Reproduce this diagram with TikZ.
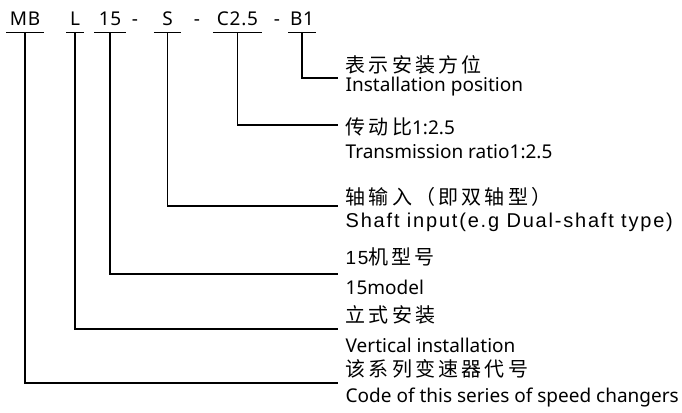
\documentclass[tikz,border=0pt]{standalone}
\usepackage{fontspec}
\setmainfont{Noto Sans}
\newfontfamily\enfont{Noto Sans}
\newfontfamily\zhfont{Noto Sans CJK SC}[LetterSpace=16]
\newfontfamily\arialfont{Liberation Sans}[LetterSpace=9]
\usetikzlibrary{calc}

\begin{document}
\begin{tikzpicture}[x=1pt, y=-1pt, line width=1.4pt,
    code/.style = {anchor=base, inner xsep=0pt, inner ysep=6pt, text depth=0pt, minimum width=#1, font=\fontsize{19}{19}\enfont\addfontfeature{LetterSpace=4}},
    hyph/.style = {anchor=base, inner sep=0pt, font=\fontsize{19}{19}\enfont},
    zh/.style = {anchor=base west, inner sep=0pt, font=\fontsize{20}{20}\zhfont},
    en/.style = {anchor=base west, inner sep=0pt, font=\fontsize{19}{19}\enfont}]

    \useasboundingbox (0,0) rectangle (682,412);

    % model code
    \node[code=36] (mb) at (25,26) {MB};
    \node[code=16] (l) at (75,26) {L};
    \node[code=30] (n15) at (110,26) {15};
    \node[hyph] (d1) at (135,26) {-};
    \node[code=26] (s) at (167.5,26) {S};
    \node[hyph] (d2) at (197,26) {-};
    \node[code=48] (c25) at (237.5,26) {C2.5};
    \node[hyph] (d3) at (277,26) {-};
    \node[code=26] (b1) at (302,26) {B1};

    \foreach \n in {mb, l, n15, s, c25, b1}
        \draw (\n.south west) -- (\n.south east);

    % descriptions
    \node[zh] (zhb1) at (345,72) {表示安装方位};
    \node[en] (enb1) at (345,92) {Installation position};
    \node[zh] (zhc25) at (345,134) {传动比{\fontsize{19}{19}\enfont 1:2.5}};
    \node[en] (enc25) at (345,158) {Transmission ratio1:2.5};
    \node[zh] (zhs) at (345,204) {轴输入（即双轴型）};
    \node[en, font=\fontsize{20}{20}\arialfont] (ens) at (345,227) {Shaft input(e.g Dual-shaft type)};
    \node[zh] (zhn15) at (345,264) {{\fontsize{19}{19}\arialfont 15}机型号};
    \node[en] (enn15) at (345,294) {15model};
    \node[zh] (zhl) at (345,322) {立式安装};
    \node[en] (enl) at (345,352) {Vertical installation};
    \node[zh] (zhmb) at (345,376) {该系列变速器代号};
    \node[en] (enmb) at (345,402) {Code of this series of speed changers};

    % leader ends
    \coordinate (tb1) at (338,78);
    \coordinate (tc25) at (338,125);
    \coordinate (ts) at (338,206);
    \coordinate (tn15) at (338,274);
    \coordinate (tl) at (338,329);
    \coordinate (tmb) at (338,383);

    \draw (b1.south) |- (tb1);
    \draw (c25.south) |- (tc25);
    \draw (s.south) |- (ts);
    \draw (n15.south) |- (tn15);
    \draw (l.south) |- (tl);
    \draw (mb.south) |- (tmb);
\end{tikzpicture}
\end{document}
